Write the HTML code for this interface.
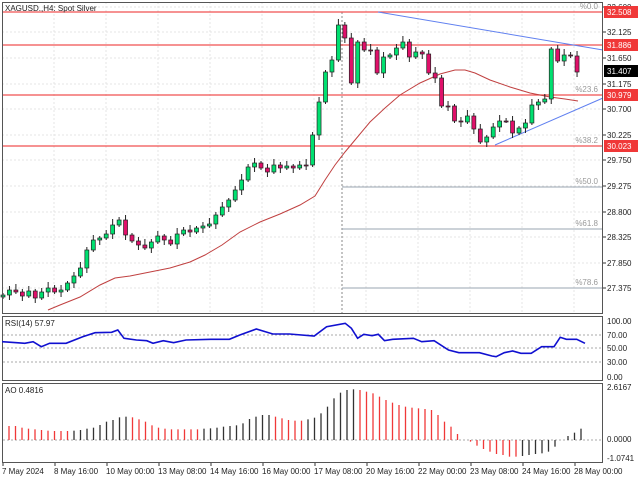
<!DOCTYPE html>
<html><head><meta charset="utf-8"><style>
html,body{margin:0;padding:0;background:#fff;}
svg{display:block;font-family:"Liberation Sans",sans-serif;}
</style></head><body>
<svg id="s" width="640" height="480" xmlns="http://www.w3.org/2000/svg"></svg>
<script>
const s=document.getElementById('s');let h='';
const W=603;
h+='<rect x="0" y="0" width="640" height="480" fill="#fff"/>';
const ticks=[[32.600,7],[32.125,32],[31.650,58],[31.175,84],[30.700,109],[30.225,135],[29.750,160],[29.275,186],[28.800,212],[28.325,237],[27.850,263],[27.375,288]];
ticks.forEach(t=>{h+=`<line x1="2" x2="${W}" y1="${t[1]}" y2="${t[1]}" stroke="#e4e4e4" stroke-dasharray="2,2"/>`;});
for(let x=54;x<W;x+=52){h+=`<line x1="${x}" x2="${x}" y1="2" y2="314" stroke="#e4e4e4" stroke-dasharray="2,2"/>`;}
h+='<line x1="342" x2="342" y1="12" y2="314" stroke="#888" stroke-dasharray="2,2"/>';
[[187,'%50.0'],[229,'%61.8'],[288,'%78.6']].forEach(f=>{h+=`<line x1="342" x2="${W}" y1="${f[0]}" y2="${f[0]}" stroke="#9aa4b0"/><text x="598" y="${f[0]-3}" font-size="8" fill="#999" text-anchor="end">${f[1]}</text>`;});
[[12,'%0.0'],[95,'%23.6'],[146,'%38.2']].forEach(f=>{h+=`<text x="598" y="${f[0]-3}" font-size="8" fill="#999" text-anchor="end">${f[1]}</text>`;});
[12,45,95,146].forEach(y=>{h+=`<line x1="2" x2="${W}" y1="${y}" y2="${y}" stroke="#f05050" stroke-width="1.2"/>`;});
h+=`<line x1="378" y1="12" x2="${W}" y2="50" stroke="#6080f0"/>`;
h+=`<line x1="495" y1="145" x2="${W}" y2="98" stroke="#6080f0"/>`;
h+=`<polyline fill="none" stroke="#c04040" stroke-width="1" points="48,310 60,305 80,297 100,285 115,278 130,276 150,272 170,268 190,262 205,255 222,245 240,232 260,222 280,214 300,205 315,196 325,180 335,165 345,152 355,140 370,122 385,108 400,95 420,83 440,74 455,70 465,70 475,73 490,80 510,87 530,93 550,97 565,99 578,101"/>`;
const c=[295,290,292,296,291,298,292,288,292,290,283,276,268,250,240,238,234,225,220,235,241,245,248,242,236,240,244,234,230,232,228,226,224,215,207,200,190,180,167,163,168,172,165,168,166,168,165,165,135,102,72,60,25,38,83,42,50,50,73,57,55,48,42,57,52,54,73,78,106,106,121,122,116,129,142,137,127,121,121,133,128,123,105,102,99,49,61,55,56,72];
let prev=297;
c.forEach((cl,i)=>{const x=3+6.45*i;const o=prev;prev=cl;
 const top=Math.min(o,cl),bot=Math.max(o,cl);const w1=2+((i*7)%5),w2=2+((i*3)%6);
 const bull=cl<o;const col=bull?'#00e070':'#e0106a';
 h+=`<line x1="${x}" x2="${x}" y1="${top-w1}" y2="${bot+w2}" stroke="#222"/>`;
 h+=`<rect x="${x-2}" y="${top}" width="4" height="${Math.max(1,bot-top)}" fill="${col}" stroke="#222" stroke-width="0.7"/>`;
});
h+='<rect x="2.5" y="2.5" width="600" height="311" fill="none" stroke="#555"/>';
h+='<rect x="2.5" y="316.5" width="600" height="64" fill="none" stroke="#555"/>';
h+='<rect x="2.5" y="383.5" width="600" height="79" fill="none" stroke="#555"/>';
ticks.forEach(t=>{h+=`<line x1="${W}" x2="${W+3}" y1="${t[1]}" y2="${t[1]}" stroke="#333"/><text x="607" y="${t[1]+3}" font-size="8" fill="#222">${t[0].toFixed(3)}</text>`;});
[[12,'32.508'],[45,'31.886'],[95,'30.979'],[146,'30.023']].forEach(l=>{h+=`<rect x="604" y="${l[0]-6}" width="34" height="12" fill="#f03838"/><text x="607" y="${l[0]+3}" font-size="8" fill="#fff">${l[1]}</text>`;});
h+=`<rect x="604" y="65" width="34" height="12" fill="#000"/><text x="607" y="74" font-size="8" fill="#fff">31.407</text>`;
h+=`<text x="5" y="11" font-size="8" fill="#222">XAGUSD.,H4:  Spot Silver</text>`;
[[335,'70.00'],[348,'50.00'],[362,'30.00']].forEach(r=>{h+=`<line x1="3" x2="${W}" y1="${r[0]}" y2="${r[0]}" stroke="#aaa" stroke-dasharray="2,2"/>`;});
[[321,'100.00'],[335,'70.00'],[348,'50.00'],[362,'30.00'],[377,'0.00']].forEach(r=>{h+=`<text x="607" y="${r[0]+3}" font-size="8" fill="#222">${r[1]}</text>`;});
const rp=[[5,125],[40,128],[60,130],[80,125],[100,140],[120,130],[160,130],[200,110],[230,98],[270,97],[285,90],[300,115],[330,120],[355,122],[370,130],[395,122],[420,128],[450,120],[510,118],[555,118],[580,105],[620,87],[660,102],[700,102],[760,108],[790,80],[835,70],[850,85],[865,115],[880,103],[900,107],[915,103],[930,122],[950,118],[1000,115],[1020,125],[1050,122],[1085,150],[1110,158],[1160,158],[1190,168],[1200,170],[1220,158],[1240,153],[1260,160],[1285,160],[1310,140],[1340,140],[1355,112],[1370,118],[1395,118],[1415,130]];
h+=`<polyline fill="none" stroke="#1010d0" stroke-width="1.6" points="${rp.map(p=>(p[0]*0.4134).toFixed(1)+','+(300+p[1]/3).toFixed(1)).join(' ')}"/>`;
h+=`<text x="5" y="326" font-size="8" fill="#222">RSI(14) 57.97</text>`;
h+=`<line x1="3" x2="${W}" y1="440" y2="440" stroke="#aaa" stroke-dasharray="2,2"/>`;
const ao=[378,378,383,386,388,390,392,393,393,393,392,390,386,383,375,365,360,352,350,352,358,365,376,383,386,388,388,388,388,388,386,385,383,380,378,376,370,357,350,345,345,350,355,360,362,362,358,353,340,320,295,278,270,268,270,275,280,290,300,308,315,320,323,325,327,330,345,365,380,402,420,425,437,447,455,462,465,470,470,468,465,462,460,455,440,420,408,398,386];
let pv=null,lastCol='#f03838';
ao.forEach((v,i)=>{const x=9+6.5*i;const y=300+v/3;let col=lastCol;
 if(pv!==null){if(v>pv)col='#f03838';else if(v<pv)col='#333';}
 lastCol=col;
 h+=`<line x1="${x}" x2="${x}" y1="440" y2="${y}" stroke="${col}" stroke-width="1.3"/>`;pv=v;});
[[390,'2.6167'],[442,'0.0000'],[461,'-1.0741']].forEach(r=>{h+=`<text x="607" y="${r[0]}" font-size="8" fill="#222">${r[1]}</text>`;});
h+=`<text x="5" y="393" font-size="8" fill="#222">AO 0.4816</text>`;
const d=['7 May 2024','8 May 16:00','10 May 00:00','13 May 08:00','14 May 16:00','16 May 00:00','17 May 08:00','20 May 16:00','22 May 00:00','23 May 08:00','24 May 16:00','28 May 00:00'];
d.forEach((t,i)=>{const x=2+52*i;h+=`<line x1="${x+1}" x2="${x+1}" y1="463" y2="466" stroke="#333"/><text x="${x}" y="474" font-size="8" fill="#222">${t}</text>`;});
s.innerHTML=h;
</script>
</body></html>
